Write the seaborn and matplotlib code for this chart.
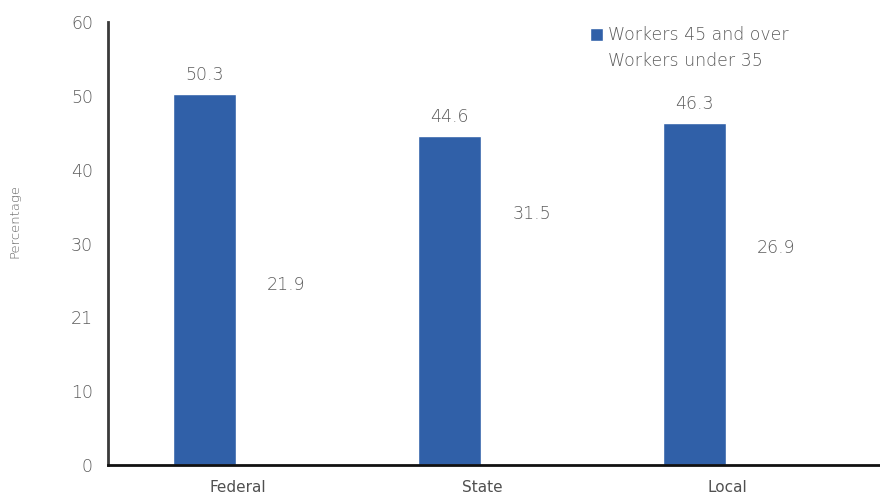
import matplotlib
matplotlib.use("Agg")
import matplotlib.pyplot as plt
import matplotlib.transforms as mtransforms
import seaborn as sns
import pandas as pd

# Share of government workers by age group
sectors = ["Federal", "State", "Local"]
series_names = ["Workers 45 and over", "Workers under 35"]
older_pct = [50.3, 44.6, 46.3]
younger_pct = [21.9, 31.5, 26.9]
y_ticks = [0, 10, 20, 30, 40, 50, 60]
y_tick_labels = ["0", "10", "21", "30", "40", "50", "60"]

df = pd.DataFrame({
    "sector": sectors * 2,
    "group": [series_names[0]] * 3 + [series_names[1]] * 3,
    "pct": older_pct + younger_pct,
})

sns.set_theme(style="white")
plt.rcParams["font.family"] = ["DejaVu Sans"]

text_color = "#5c5c5c"
blue = "#3060A8"

fig = plt.figure(figsize=(8.8, 4.97), dpi=100)
ax = fig.add_axes([0.123, 0.064, 0.877, 0.892])

sns.barplot(
    data=df, x="sector", y="pct", hue="group",
    palette={series_names[0]: blue, series_names[1]: "white"},
    width=0.67, gap=0.23, ax=ax, saturation=1,
)

for container in ax.containers:
    ax.bar_label(container, fmt="%.1f", padding=7, fontsize=12.5,
                 color=text_color, fontweight="light")

ax.set_ylim(0, 60)
ax.set_xlim(-0.56, 2.59)
ax.set_yticks(y_ticks)
ax.set_yticklabels(y_tick_labels, fontweight="light")
ax.tick_params(axis="y", length=0, pad=11, labelsize=12.5, labelcolor=text_color)
ax.tick_params(axis="x", length=0, pad=11, labelsize=11, labelcolor="#505050")
ax.set_xlabel("")
ax.set_ylabel("Percentage", fontsize=9.5, color="#606060", fontweight="light")
ax.yaxis.set_label_coords(-0.114, 0.55)

# nudge the category names slightly left of the group centres
shift = mtransforms.ScaledTranslation(-8 / 100, 0, fig.dpi_scale_trans)
for lbl in ax.get_xticklabels():
    lbl.set_transform(lbl.get_transform() + shift)

for side in ("top", "right"):
    ax.spines[side].set_visible(False)
ax.spines["left"].set_color("#3a3a3a")
ax.spines["left"].set_linewidth(2)
ax.spines["bottom"].set_color("#111111")
ax.spines["bottom"].set_linewidth(2)

leg = ax.legend(
    loc="upper left", bbox_to_anchor=(0.604, 1.025), frameon=False,
    fontsize=12.5, handlelength=0.75, handleheight=0.75, handletextpad=0.3,
    labelspacing=0.45,
)
for t in leg.get_texts():
    t.set_color(text_color)
    t.set_fontweight("light")

fig.savefig("out.png", dpi=100, facecolor="white")
